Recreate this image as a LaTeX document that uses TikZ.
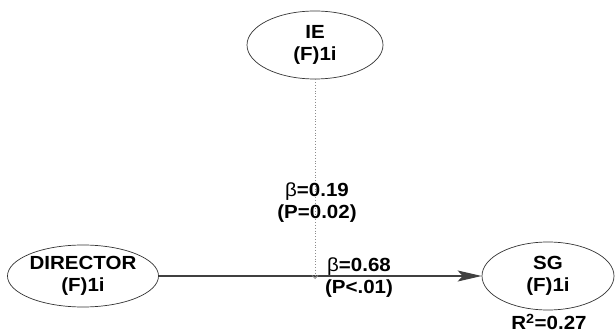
\documentclass[tikz,border=0pt]{standalone}
\usepackage{fontspec}
\setmainfont{Liberation Sans}[FakeStretch=1.08]
\usetikzlibrary{arrows.meta,shapes.geometric}
\begin{document}
\begin{tikzpicture}[x=1pt,y=-1pt,
  latent/.style={draw=black!80, line width=0.7pt, ellipse, inner sep=0pt,
    align=center, font=\fontsize{19}{22}\selectfont\bfseries},
  coef/.style={align=center, inner sep=0pt, font=\fontsize{19}{22}\selectfont\bfseries},
  path/.style={draw=black!75, line width=1.1pt,
    -{Stealth[length=24pt,width=11pt,inset=5pt]}},
  modpath/.style={draw=black!45, line width=0.8pt, dotted,
    -{Straight Barb[length=3pt,width=6pt]}}]
  \useasboundingbox (0,0) rectangle (616,334);
  \fill[white] (0,0) rectangle (616,334);

  % latent variables
  \node[latent, minimum width=136pt, minimum height=68pt] (ie) at (315,45) {IE\\(F)1i};
  \node[latent, minimum width=137pt, minimum height=62pt] (dir) at (83,276) {DIRECTOR\\(F)1i};
  \node[latent, minimum width=132pt, minimum height=68pt] (sg) at (548,276) {SG\\(F)1i};

  % direct path and moderating path
  \draw[path] (dir.east) -- (sg.west);
  \coordinate (hit) at ([yshift=-3pt]ie.south |- dir.east);
  \draw[modpath] (ie.south) -- (hit);

  % coefficients
  \node[coef] (c1) at (317,203) {{\mdseries β}=0.19\\(P=0.02)};
  \node[coef] (c2) at (359,278) {{\mdseries β}=0.68\\(P<.01)};
  \node[coef] (r2) at (549,322) {R\textsuperscript{2}=0.27};
\end{tikzpicture}
\end{document}
